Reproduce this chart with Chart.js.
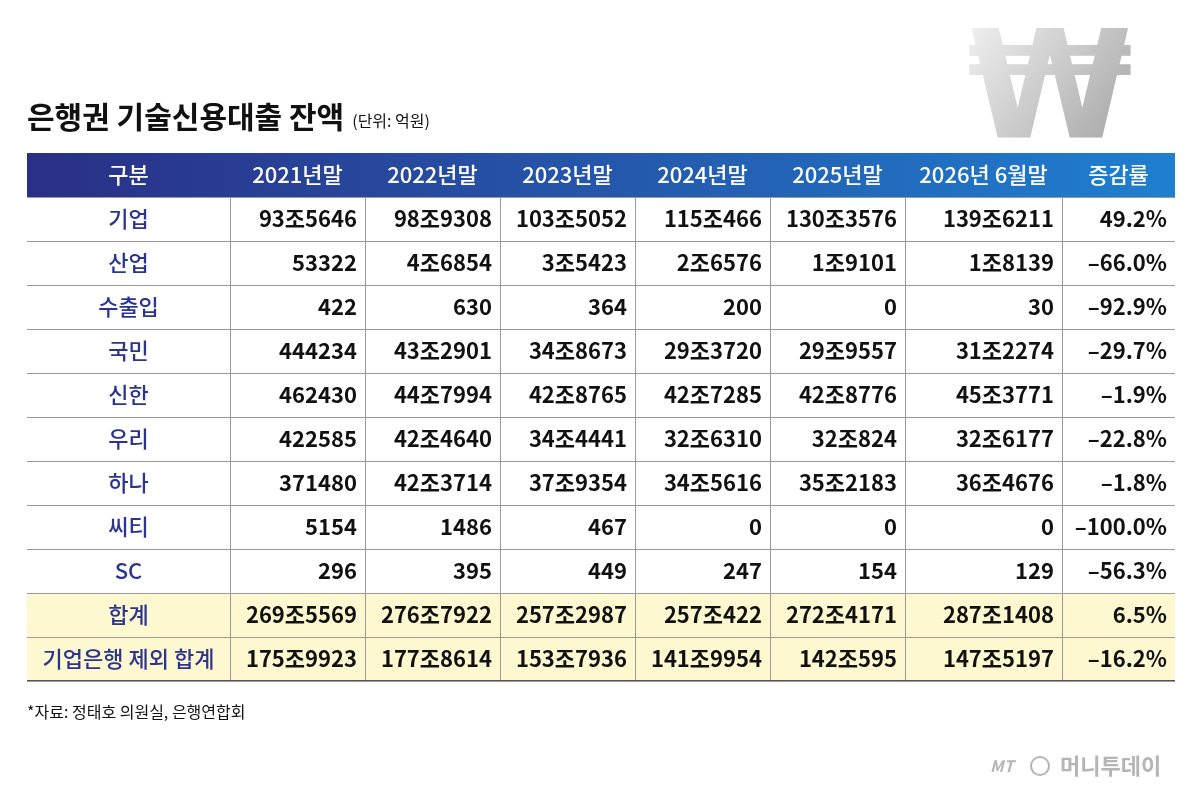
<!DOCTYPE html>
<html><head><meta charset="utf-8">
<script src="https://cdn.jsdelivr.net/npm/chart.js@4"></script>
<style>html,body{margin:0;padding:0;background:#fff;}canvas{display:block}</style>
</head><body>
<canvas id="c" width="1200" height="789"></canvas>
<script>
const headers = ['구분','2021년말','2022년말','2023년말','2024년말','2025년말','2026년 6월말','증감률'];
const rowLabels = ['기업','산업','수출입','국민','신한','우리','하나','씨티','SC','합계','기업은행 제외 합계'];
const y2021 = ['93조5646','53322','422','444234','462430','422585','371480','5154','296','269조5569','175조9923'];
const y2022 = ['98조9308','4조6854','630','43조2901','44조7994','42조4640','42조3714','1486','395','276조7922','177조8614'];
const y2023 = ['103조5052','3조5423','364','34조8673','42조8765','34조4441','37조9354','467','449','257조2987','153조7936'];
const y2024 = ['115조466','2조6576','200','29조3720','42조7285','32조6310','34조5616','0','247','257조422','141조9954'];
const y2025 = ['130조3576','1조9101','0','29조9557','42조8776','32조824','35조2183','0','154','272조4171','142조595'];
const y2026 = ['139조6211','1조8139','30','31조2274','45조3771','32조6177','36조4676','0','129','287조1408','147조5197'];
const change = ['49.2%','-66.0%','-92.9%','-29.7%','-1.9%','-22.8%','-1.8%','-100.0%','-56.3%','6.5%','-16.2%'];
const colWidths = [203,135,135,135,135,135,157,113];
const series = [y2021,y2022,y2023,y2024,y2025,y2026,change];
const F = '"Noto Sans CJK KR","Noto Sans",sans-serif';

const tablePlugin = {
  id:'table',
  afterDraw(chart){
    const ctx = chart.ctx, xs = chart.scales.x, ys = chart.scales.y;
    const edges=[0]; colWidths.forEach(w=>edges.push(edges[edges.length-1]+w));
    const X = v=>xs.getPixelForValue(v);
    const nrows = rowLabels.length+1;
    const half = (ys.getPixelForValue(1)-ys.getPixelForValue(0))/2;
    const top = ys.getPixelForValue(0)-half, bot = ys.getPixelForValue(nrows-1)+half;
    const L=X(0), R=X(edges[edges.length-1]);
    // header
    const g = ctx.createLinearGradient(L,0,R,0);
    g.addColorStop(0,'#2a2f86'); g.addColorStop(1,'#1f7fd0');
    ctx.fillStyle=g; ctx.fillRect(L,top,R-L,2*half);
    // total rows
    ctx.fillStyle='#fdf8cf';
    ctx.fillRect(L,ys.getPixelForValue(10)-half,R-L,4*half);
    // grid
    ctx.strokeStyle='#9a9a9a'; ctx.lineWidth=1;
    for(let r=1;r<=nrows;r++){const y=Math.round(ys.getPixelForValue(r-1)+half)+0.5;ctx.beginPath();ctx.moveTo(L,y);ctx.lineTo(R,y);ctx.stroke();}
    for(let c=1;c<edges.length-1;c++){const x=Math.round(X(edges[c]))+0.5;ctx.beginPath();ctx.moveTo(x,top+2*half);ctx.lineTo(x,bot);ctx.stroke();}
    ctx.strokeStyle='#555';ctx.beginPath();ctx.moveTo(L,bot-0.5);ctx.lineTo(R,bot-0.5);ctx.stroke();
    // header text
    ctx.textBaseline='middle';
    ctx.font='500 22px '+F; ctx.fillStyle='#fff';
    headers.forEach((h,i)=>{
      const yc=ys.getPixelForValue(0);
      if(i===0){ctx.textAlign='center';ctx.fillText(h,(X(edges[0])+X(edges[1]))/2,yc);}
      else {ctx.textAlign='center';ctx.fillText(h,(X(edges[i])+X(edges[i+1]))/2,yc);}
    });
    rowLabels.forEach((lab,r)=>{
      const yc=ys.getPixelForValue(r+1);
      ctx.textAlign='center'; ctx.fillStyle='#2b3590'; ctx.font='500 22px '+F;
      ctx.fillText(lab,(X(edges[0])+X(edges[1]))/2,yc);
      ctx.fillStyle='#111'; ctx.font='bold 22px '+F; ctx.textAlign='right';
      series.forEach((s,c)=>{ ctx.fillText(s[r].replace('-','–'),X(edges[c+2])-8,yc); });
    });
    // titles
    ctx.textAlign='left'; ctx.textBaseline='alphabetic'; ctx.fillStyle='#111';
    ctx.font='bold 30px '+F; ctx.fillText('은행권 기술신용대출 잔액',27,128);
    const tw=ctx.measureText('은행권 기술신용대출 잔액').width;
    ctx.font='16px '+F; ctx.fillText('(단위: 억원)',27+tw+8,127);
    ctx.font='16px '+F; ctx.fillText('*자료: 정태호 의원실, 은행연합회',27,718);
    ctx.fillStyle='#b5b5b5'; ctx.font='italic bold 16px '+F; ctx.fillText('MT',990,772);
    ctx.font='bold 22px '+F; ctx.fillText('머니투데이',1060,774);
    ctx.beginPath();ctx.strokeStyle='#b5b5b5';ctx.lineWidth=2;ctx.arc(1040,766,9,0,Math.PI*2);ctx.stroke();
    // won sign
    ctx.textAlign='center'; ctx.font='bold 150px "DejaVu Sans",sans-serif';
    const wg=ctx.createLinearGradient(960,20,1120,140); wg.addColorStop(0,'#f4f4f4'); wg.addColorStop(1,'#a8a8a8');
    ctx.fillStyle=wg; ctx.fillText('₩',1050,138);
  }
};

new Chart(document.getElementById('c'),{
  type:'scatter',
  data:{datasets:[{data:[]}]},
  options:{
    responsive:false, animation:false, devicePixelRatio:1,
    layout:{padding:{left:27,right:25,top:153,bottom:108}},
    plugins:{legend:{display:false},tooltip:{enabled:false}},
    scales:{
      x:{type:'linear',min:0,max:colWidths.reduce((a,b)=>a+b,0),display:false},
      y:{type:'category',labels:['구분',...rowLabels],offset:true,display:false,grid:{display:false}}
    }
  },
  plugins:[tablePlugin]
});
</script>
</body></html>
